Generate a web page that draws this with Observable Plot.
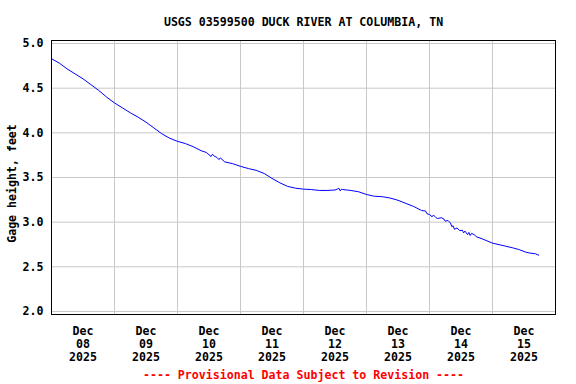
<!DOCTYPE html>
<html>
<head>
<meta charset="utf-8">
<script src="https://cdn.jsdelivr.net/npm/d3@7"></script>
<script src="https://cdn.jsdelivr.net/npm/@observablehq/plot@0.6"></script>
<style>
  html, body { margin: 0; padding: 0; background: white; }
</style>
</head>
<body>
<div id="chart"></div>
<script>
const titleText = "USGS 03599500 DUCK RIVER AT COLUMBIA, TN";
const yLabel = "Gage height, feet";
const footerText = "---- Provisional Data Subject to Revision ----";

// hours since 2025-12-08 00:00
const hours = [0, 3, 6, 9, 12, 15, 18, 21, 24, 27, 30, 33, 36, 39, 42, 45, 48, 51, 54, 57, 59, 60, 60.8, 61.3, 62, 63, 63.8, 64.3, 66, 69, 72, 75, 78, 81, 84, 87, 90, 93, 96, 99, 102, 105, 108, 109, 109.5, 110, 110.5, 111, 114, 117, 120, 123, 126, 129, 132, 135, 138, 141, 142.5, 143, 144, 145, 145.5, 146.5, 147, 148.5, 149.5, 150, 151, 152, 152.5, 153, 153.5, 154.5, 155.5, 156.5, 157, 157.5, 158.5, 159, 159.5, 160, 161, 162, 164, 168, 173, 176, 178, 180.6, 182, 184.4, 185.6];
const gage = [4.83, 4.78, 4.715, 4.66, 4.605, 4.54, 4.475, 4.40, 4.335, 4.28, 4.225, 4.175, 4.12, 4.055, 3.99, 3.94, 3.905, 3.88, 3.845, 3.80, 3.78, 3.755, 3.735, 3.76, 3.74, 3.725, 3.70, 3.72, 3.675, 3.655, 3.625, 3.60, 3.58, 3.545, 3.49, 3.44, 3.40, 3.38, 3.37, 3.365, 3.355, 3.355, 3.36, 3.372, 3.378, 3.35, 3.37, 3.365, 3.355, 3.34, 3.31, 3.29, 3.285, 3.27, 3.245, 3.21, 3.175, 3.13, 3.125, 3.095, 3.085, 3.06, 3.08, 3.05, 3.04, 3.05, 3.035, 3.01, 3.02, 2.99, 2.95, 2.96, 2.92, 2.935, 2.905, 2.91, 2.88, 2.90, 2.86, 2.885, 2.85, 2.875, 2.86, 2.835, 2.814, 2.765, 2.731, 2.71, 2.694, 2.665, 2.655, 2.646, 2.63];

const dayNumbers = ["08", "09", "10", "11", "12", "13", "14", "15"];
const monthLabel = "Dec";
const yearLabel = "2025";
const yTicks = [2.0, 2.5, 3.0, 3.5, 4.0, 4.5, 5.0];

const start = Date.UTC(2025, 11, 8);
const dayMs = 86400000;
const data = hours.map((h, i) => ({date: new Date(start + h * 3600000), value: gage[i]}));
const days = dayNumbers.map((d, i) => ({
  noon: new Date(start + (i + 0.5) * dayMs),
  label: `${monthLabel}\n${d}\n${yearLabel}`
}));
const gridDays = d3.range(1, dayNumbers.length).map(i => new Date(start + i * dayMs));

const font = "DejaVu Sans Mono, Liberation Mono, monospace";

const chart = Plot.plot({
  width: 576,
  height: 384,
  marginLeft: 51,
  marginRight: 21,
  marginTop: 40,
  marginBottom: 70,
  style: {fontFamily: font, fontSize: "11.6px", fontWeight: "bold", background: "white", color: "black"},
  x: {type: "utc", domain: [new Date(start), new Date(start + 8 * dayMs)], axis: null},
  y: {domain: [1.966, 5.034], axis: null},
  marks: [
    Plot.ruleY(yTicks, {stroke: "#c8c8c8", strokeWidth: 1}),
    Plot.ruleX(gridDays, {stroke: "#c8c8c8", strokeWidth: 1}),
    Plot.line(data, {x: "date", y: "value", stroke: "#0000ff", strokeWidth: 1}),
    Plot.frame({stroke: "black", strokeWidth: 1}),
    Plot.axisY(yTicks, {tickSize: 0, tickPadding: 8, tickFormat: d => d.toFixed(1), label: null, fontWeight: "bold", fontSize: 11.6}),
    Plot.text(days, {x: "noon", text: "label", frameAnchor: "bottom", dy: 29, lineAnchor: "middle", lineHeight: 1.12, fill: "black", fontWeight: "bold"}),
    Plot.text([titleText], {frameAnchor: "top", dy: -18.5, lineAnchor: "middle", fill: "black", fontWeight: "bold"}),
    Plot.text([yLabel], {frameAnchor: "left", textAnchor: "middle", rotate: -90, dx: -39.5, dy: 6, lineAnchor: "middle", fill: "black", fontWeight: "bold"}),
    Plot.text([footerText], {frameAnchor: "bottom", dy: 61, lineAnchor: "middle", fill: "#ff0000", fontWeight: "bold"})
  ]
});
document.getElementById("chart").appendChild(chart);
</script>
</body>
</html>
